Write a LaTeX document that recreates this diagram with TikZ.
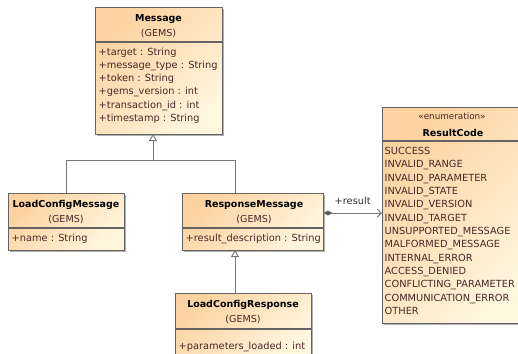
\documentclass[tikz,border=0pt]{standalone}
\usepackage{fontspec}
\setmainfont{DejaVu Sans}
\usetikzlibrary{shadows,arrows.meta}
\definecolor{peach}{HTML}{FCD2A0}
\definecolor{cream}{HTML}{FFF6DE}
\definecolor{bord}{HTML}{666262}
\definecolor{txt}{HTML}{4A2626}
\definecolor{conn}{HTML}{777777}
\begin{document}
\begin{tikzpicture}[x=1bp,y=-1bp,
  umlbox/.style={draw=bord, line width=0.9bp, top color=peach, bottom color=cream,
    shading angle=45, inner sep=0pt, outer sep=0pt, anchor=north west,
    drop shadow={shadow xshift=1.6bp, shadow yshift=-1.6bp, fill=black, opacity=0.3}},
  divider/.style={draw=bord, line width=1.1bp},
  ttl/.style={font=\fontsize{9.5bp}{11bp}\selectfont\bfseries, anchor=base, inner sep=0pt, text=black},
  pkg/.style={font=\fontsize{9.6bp}{11bp}\selectfont, anchor=base, inner sep=0pt, text=txt},
  attr/.style={font=\fontsize{9.8bp}{11bp}\selectfont, anchor=base west, inner sep=0pt, text=txt},
  stereo/.style={font=\fontsize{8.8bp}{10bp}\selectfont, anchor=base, inner sep=0pt, text=txt},
  conline/.style={draw=conn, line width=0.9bp},
  gen/.style={conline, -{Triangle[open, length=7bp, width=8bp]}},
  assoc/.style={conline, {Diamond[length=10bp, width=5bp, fill=conn!70!black]}-{Straight Barb[length=4bp, width=8bp]}}
]
\useasboundingbox[fill=white] (0,0) rectangle (518,353);

% ---------- Message ----------
\node[umlbox, minimum width=127bp, minimum height=127bp] (msg) at (95,7) {};
\draw[divider] ([yshift=-35bp]msg.north west) -- ([yshift=-35bp]msg.north east);
\node[ttl] (msgt) at (158.5,21) {Message};
\node[pkg] (msgp) at (158.5,36) {(GEMS)};
\node[attr] (ma1) at (98.5,55) {+target : String};
\node[attr] (ma2) at (98.5,68.3) {+message\_type : String};
\node[attr] (ma3) at (98.5,81.6) {+token : String};
\node[attr] (ma4) at (98.5,94.9) {+gems\_version : int};
\node[attr] (ma5) at (98.5,108.2) {+transaction\_id : int};
\node[attr] (ma6) at (98.5,121.5) {+timestamp : String};

% ---------- LoadConfigMessage ----------
\node[umlbox, minimum width=116bp, minimum height=57bp] (lcm) at (8,193) {};
\draw[divider] ([yshift=-35bp]lcm.north west) -- ([yshift=-35bp]lcm.north east);
\node[ttl] (lcmt) at (66,207) {LoadConfigMessage};
\node[pkg] (lcmp) at (66,222.5) {(GEMS)};
\node[attr] (lcma1) at (11.5,241.5) {+name : String};

% ---------- ResponseMessage ----------
\node[umlbox, minimum width=141bp, minimum height=57bp] (rm) at (182,193) {};
\draw[divider] ([yshift=-35bp]rm.north west) -- ([yshift=-35bp]rm.north east);
\node[ttl] (rmt) at (254,207) {ResponseMessage};
\node[pkg] (rmp) at (254,222.5) {(GEMS)};
\node[attr] (rma1) at (185.5,241.5) {+result\_description : String};

% ---------- LoadConfigResponse (cut by the lower edge) ----------
\node[umlbox, draw=none, minimum width=136bp, minimum height=61bp] (lcr) at (175,293) {};
\draw[draw=bord, line width=0.9bp] (lcr.south west) -- (lcr.north west) -- (lcr.north east) -- (lcr.south east);
\draw[divider] ([yshift=-36bp]lcr.north west) -- ([yshift=-36bp]lcr.north east);
\node[ttl] (lcrt) at (243,307) {LoadConfigResponse};
\node[pkg] (lcrp) at (243,322.5) {(GEMS)};
\node[attr] (lcra1) at (178.5,349.5) {+parameters\_loaded : int};

% ---------- ResultCode ----------
\node[umlbox, minimum width=146bp, minimum height=216bp] (rc) at (382,107) {};
\draw[divider] ([yshift=-34bp]rc.north west) -- ([yshift=-34bp]rc.north east);
\node[stereo] (rcs) at (452,119) {«enumeration»};
\node[ttl] (rct) at (453,136) {ResultCode};
\foreach \t [count=\i from 0] in {SUCCESS,INVALID\_RANGE,INVALID\_PARAMETER,INVALID\_STATE,
  INVALID\_VERSION,INVALID\_TARGET,UNSUPPORTED\_MESSAGE,MALFORMED\_MESSAGE,INTERNAL\_ERROR,
  ACCESS\_DENIED,CONFLICTING\_PARAMETER,COMMUNICATION\_ERROR,OTHER}
  \node[attr] (rcl\i) at (384.5,{154.5+13.33*\i}) {\t};

% ---------- connectors ----------
\coordinate (j) at (153,160);
\coordinate (c2) at (235,160);
\coordinate (ay) at (0,213);
\draw[conline] (lcm.north) |- (j);
\draw[conline] (rm.north -| c2) -- (c2) -- (j);
\draw[gen] (j) -- (msg.south -| j);
\draw[gen] (lcr.north -| c2) -- (rm.south -| c2);
\draw[assoc] (rm.east |- ay) -- (rc.west |- ay);
\node[attr, text=black!80] (res) at (334.5,204) {+result};
\end{tikzpicture}
\end{document}
